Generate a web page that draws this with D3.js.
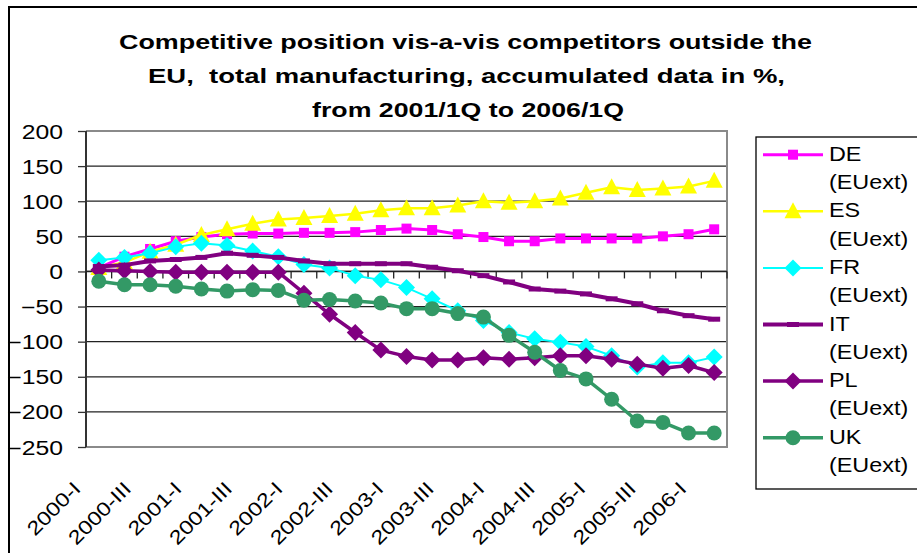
<!DOCTYPE html>
<html><head><meta charset="utf-8">
<script src="https://cdn.jsdelivr.net/npm/d3@7"></script>
<style>body{margin:0;background:#fff;}svg{display:block;font-family:"Liberation Sans",Arial,sans-serif;}</style>
</head><body><svg id="c" width="917" height="553"></svg>
<script>
const categories = ["2000-I","2000-II","2000-III","2000-IV","2001-I","2001-II","2001-III","2001-IV",
  "2002-I","2002-II","2002-III","2002-IV","2003-I","2003-II","2003-III","2003-IV",
  "2004-I","2004-II","2004-III","2004-IV","2005-I","2005-II","2005-III","2005-IV","2006-I"];
const tickLabels = ["2000-I","2000-III","2001-I","2001-III","2002-I","2002-III","2003-I","2003-III","2004-I","2004-III","2005-I","2005-III","2006-I"];
const yTicks = [200,150,100,50,0,-50,-100,-150,-200,-250];
const titleLines = ["Competitive position vis-a-vis competitors outside the","EU,  total manufacturing, accumulated data in %,","from 2001/1Q to 2006/1Q"];
const seriesNames = ["DE","ES","FR","IT","PL","UK"];
const legendSuffix = "(EUext)";
const DE = [5,21,32,43,49,53,54,54,55,55,56,59,61,59,53,49,43,43,47,47,47,47,50,53,60];
const ES = [5,13,28,38,52,60,68,74,76,79,82,87,90,90,94,100,98,100,104,112,120,116,118,121,129];
const FR = [16,20,26,35,40,37,29,21,10,5,-6,-12,-23,-39,-56,-70,-87,-96,-101,-107,-120,-136,-130,-130,-122];
const IT = [7,9,15,17,20,26,23,20,15,11,11,11,11,6,1,-6,-15,-25,-28,-32,-39,-46,-56,-63,-68];
const PL = [2,1,0,-1,-1,-1,-1,-1,-31,-61,-87,-112,-121,-126,-126,-123,-125,-123,-120,-120,-125,-132,-138,-134,-144];
const UK = [-14,-19,-19,-21,-25,-28,-26,-27,-41,-40,-42,-45,-53,-53,-60,-65,-91,-115,-141,-153,-182,-213,-215,-230,-230];

const seriesValues = [DE,ES,FR,IT,PL,UK];
const styles = [
  {color:"#FF00FF", width:3, marker:"square"},
  {color:"#FFFF00", width:2.5, marker:"triangle"},
  {color:"#00FFFF", width:2, marker:"diamond"},
  {color:"#800080", width:4, marker:"dash"},
  {color:"#800080", width:3.5, marker:"diamond"},
  {color:"#339966", width:3.5, marker:"circle"}
];

const svg = d3.select("#c");
svg.append("rect").attr("x",9).attr("y",7).attr("width",930).attr("height",570)
  .attr("fill","none").attr("stroke","#000").attr("stroke-width",2);

// title
const titleX = [119,148,312], titleW = [693,637,312], titleY = [49,83,117];
titleLines.forEach((t,i)=>{
  svg.append("text").attr("x",titleX[i]).attr("y",titleY[i]).attr("font-size",20.5)
    .attr("font-weight","bold").style("white-space","pre").attr("xml:space","preserve")
    .attr("textLength",titleW[i]).attr("lengthAdjust","spacingAndGlyphs").text(t);
});

const x = d3.scaleBand().domain(categories).range([86,727]).padding(0);
const y = d3.scaleLinear().domain([-250,200]).range([447,131]);
const cx = c => x(c) + x.bandwidth()/2;

svg.append("g").selectAll("line").data(yTicks.filter(v=>v>-250&&v<200)).join("line")
  .attr("x1",86).attr("x2",727).attr("y1",d=>y(d)).attr("y2",d=>y(d))
  .attr("stroke","#222").attr("stroke-width",1.3);
svg.append("path").attr("d",`M86,${y(200)}H727V${y(-250)}H86`).attr("fill","none")
  .attr("stroke","#8a8a8a").attr("stroke-width",2);

const ya = svg.append("g").attr("transform","translate(86,0)")
  .call(d3.axisLeft(y).tickValues(yTicks).tickSize(8).tickFormat(d3.format("d")));
ya.select(".domain").attr("stroke","#333").attr("stroke-width",2).attr("d",`M0,${y(200)}V${y(-250)}`);
ya.selectAll(".tick line").attr("stroke","#333").attr("stroke-width",1.3);
ya.selectAll(".tick text").attr("font-size",19.5).attr("fill","#000").attr("font-family","Liberation Sans, Arial")
  .attr("x",0).attr("dy",0).attr("y",7).attr("transform","translate(-23,0) scale(1.27,1)");

svg.append("line").attr("x1",86).attr("x2",727).attr("y1",y(0)).attr("y2",y(0)).attr("stroke","#222").attr("stroke-width",1.6);
svg.append("g").selectAll("line").data(d3.range(categories.length+1)).join("line")
  .attr("x1",i=>86+i*x.bandwidth()).attr("x2",i=>86+i*x.bandwidth())
  .attr("y1",y(0)).attr("y2",y(0)+7).attr("stroke","#222").attr("stroke-width",1.3);

svg.append("g").selectAll("text").data(tickLabels).join("text")
  .attr("transform",(d,i)=>`translate(${cx(d)-17-i*0.8},490) rotate(-45) scale(1.2,1)`)
  .attr("text-anchor","end").attr("font-size",19.5).text(d=>d);

function marker(g, type, color){
  if(type==="square") g.append("rect").attr("x",-5).attr("y",-5).attr("width",10).attr("height",10).attr("fill",color);
  else if(type==="triangle") g.append("path").attr("d","M0,-9L8.5,7L-8.5,7Z").attr("fill",color);
  else if(type==="diamond") g.append("path").attr("d","M0,-8.5L8.5,0L0,8.5L-8.5,0Z").attr("fill",color);
  else if(type==="dash") g.append("rect").attr("x",-6).attr("y",-2.5).attr("width",12).attr("height",5).attr("fill",color);
  else if(type==="circle") g.append("circle").attr("r",7.5).attr("fill",color);
}

const line = d3.line().x((d,i)=>cx(categories[i])).y(d=>y(d));
seriesValues.forEach((vals,si)=>{
  const st = styles[si];
  const g = svg.append("g");
  g.append("path").attr("d",line(vals)).attr("fill","none").attr("stroke",st.color)
    .attr("stroke-width",st.width).attr("stroke-linejoin","round");
  vals.forEach((v,i)=>{
    marker(g.append("g").attr("transform",`translate(${cx(categories[i])},${y(v)})`), st.marker, st.color);
  });
});

svg.append("rect").attr("x",756).attr("y",137).attr("width",200).attr("height",352)
  .attr("fill","#fff").attr("stroke","#000").attr("stroke-width",1.3);
seriesNames.forEach((n,i)=>{
  const base = 160.7 + i*56.6;
  const st = styles[i];
  svg.append("line").attr("x1",763).attr("x2",823).attr("y1",base-6).attr("y2",base-6)
    .attr("stroke",st.color).attr("stroke-width",st.width);
  marker(svg.append("g").attr("transform",`translate(793,${base-6})`), st.marker, st.color);
  svg.append("text").attr("transform",`translate(829,${base}) scale(1.14,1)`).attr("font-size",20.5).text(n);
  svg.append("text").attr("transform",`translate(829,${base+28.3}) scale(1.14,1)`).attr("font-size",20.5).text(legendSuffix);
});
</script></body></html>
